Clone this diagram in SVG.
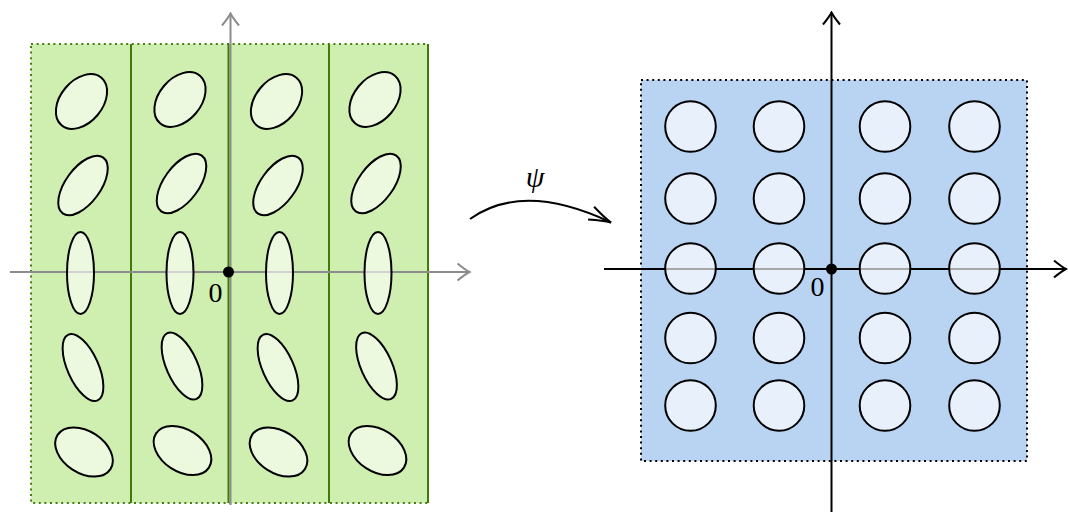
<svg xmlns="http://www.w3.org/2000/svg" width="1068" height="512" viewBox="0 0 1068 512">
<style>
.strip{fill:#cfefb0;stroke:#457d0e;stroke-width:2;stroke-dasharray:2 3.6}
.sep{stroke:#3f7a0a;stroke-width:2;fill:none}
.gax{stroke:#8c8c8c;stroke-width:2;fill:none}
.bax{stroke:#000;stroke-width:2;fill:none}
.ell{fill:#fff;fill-opacity:0.6;stroke:#000;stroke-width:2}
.cir{fill:#fff;fill-opacity:0.65;stroke:#000;stroke-width:2}
.lbl{font-family:"Liberation Serif","DejaVu Serif",serif;font-size:28px;fill:#000}
</style>
<defs>
<marker id="ga" viewBox="-14 -10 16 20" refX="0" refY="0" markerWidth="16" markerHeight="20" markerUnits="userSpaceOnUse" orient="auto">
<path d="M-12,-8.5 Q-4,-2 0,0 Q-4,2 -12,8.5" fill="none" stroke="#8c8c8c" stroke-width="2"/>
</marker>
<marker id="ba" viewBox="-14 -10 16 20" refX="0" refY="0" markerWidth="16" markerHeight="20" markerUnits="userSpaceOnUse" orient="auto">
<path d="M-12,-8.5 Q-4,-2 0,0 Q-4,2 -12,8.5" fill="none" stroke="#000" stroke-width="2"/>
</marker>
<marker id="pa" viewBox="-24 -10 26 20" refX="0" refY="0" markerWidth="26" markerHeight="20" markerUnits="userSpaceOnUse" orient="auto">
<path d="M-22,-7 Q-8,-1.5 0,0 Q-8,1.5 -22,7" fill="none" stroke="#000" stroke-width="2"/>
</marker>
</defs>

<g id="left-domain">
<rect class="strip" x="31" y="44" width="397" height="459"/>
<line class="sep" x1="131" y1="44" x2="131" y2="503"/>
<line class="sep" x1="228.5" y1="44" x2="228.5" y2="503"/>
<line class="sep" x1="329" y1="44" x2="329" y2="503"/>
<line class="sep" x1="428" y1="44" x2="428" y2="503"/>
<line class="gax" x1="230.5" y1="505" x2="230.5" y2="13.5" marker-end="url(#ga)"/>
<line class="gax" x1="10" y1="272" x2="469.5" y2="272" marker-end="url(#ga)"/>
<g id="left-ellipses">
<ellipse class="ell" cx="81.5" cy="101.5" rx="31" ry="21" transform="rotate(-50 81.5 101.5)"/>
<ellipse class="ell" cx="180" cy="99.5" rx="31" ry="21" transform="rotate(-50 180 99.5)"/>
<ellipse class="ell" cx="276.5" cy="101.5" rx="31" ry="21" transform="rotate(-50 276.5 101.5)"/>
<ellipse class="ell" cx="375" cy="99.5" rx="31" ry="21" transform="rotate(-50 375 99.5)"/>
<ellipse class="ell" cx="83" cy="185.5" rx="34.5" ry="17.5" transform="rotate(-54 83 185.5)"/>
<ellipse class="ell" cx="181.5" cy="183.5" rx="34.5" ry="17.5" transform="rotate(-54 181.5 183.5)"/>
<ellipse class="ell" cx="278" cy="185.5" rx="34.5" ry="17.5" transform="rotate(-54 278 185.5)"/>
<ellipse class="ell" cx="376" cy="183.5" rx="34.5" ry="17.5" transform="rotate(-54 376 183.5)"/>
<ellipse class="ell" cx="80.5" cy="273" rx="13.5" ry="41"/>
<ellipse class="ell" cx="180" cy="273" rx="13.5" ry="41"/>
<ellipse class="ell" cx="279.5" cy="273" rx="13.5" ry="41"/>
<ellipse class="ell" cx="378" cy="273" rx="13.5" ry="41"/>
<ellipse class="ell" cx="83" cy="367.5" rx="36" ry="15.5" transform="rotate(66 83 367.5)"/>
<ellipse class="ell" cx="182" cy="366" rx="36" ry="15.5" transform="rotate(66 182 366)"/>
<ellipse class="ell" cx="278" cy="367.5" rx="36" ry="15.5" transform="rotate(66 278 367.5)"/>
<ellipse class="ell" cx="376.5" cy="366" rx="36" ry="15.5" transform="rotate(66 376.5 366)"/>
<ellipse class="ell" cx="84" cy="452" rx="31.5" ry="21" transform="rotate(33 84 452)"/>
<ellipse class="ell" cx="182.5" cy="450.5" rx="31.5" ry="21" transform="rotate(33 182.5 450.5)"/>
<ellipse class="ell" cx="278.5" cy="452" rx="31.5" ry="21" transform="rotate(33 278.5 452)"/>
<ellipse class="ell" cx="377.5" cy="450.5" rx="31.5" ry="21" transform="rotate(33 377.5 450.5)"/>
</g>
<circle cx="228.5" cy="272" r="5.5" fill="#000"/>
<text class="lbl" x="215.5" y="302" text-anchor="middle">0</text>
</g>

<g id="right-domain">
<rect x="641" y="80" width="386" height="381" fill="#b9d4f3" stroke="#000" stroke-width="2" stroke-dasharray="2 3.6"/>
<line class="bax" x1="831.5" y1="512" x2="831.5" y2="12.5" marker-end="url(#ba)"/>
<line class="bax" x1="604" y1="269" x2="1066" y2="269" marker-end="url(#ba)"/>
<g id="right-circles">
<circle class="cir" cx="690.5" cy="126.5" r="25.3"/>
<circle class="cir" cx="779" cy="126.5" r="25.3"/>
<circle class="cir" cx="885" cy="126.5" r="25.3"/>
<circle class="cir" cx="974.5" cy="126.5" r="25.3"/>
<circle class="cir" cx="690.5" cy="198.5" r="25.3"/>
<circle class="cir" cx="779" cy="198.5" r="25.3"/>
<circle class="cir" cx="885" cy="198.5" r="25.3"/>
<circle class="cir" cx="974.5" cy="198.5" r="25.3"/>
<circle class="cir" cx="690.5" cy="268.5" r="25.3"/>
<circle class="cir" cx="779" cy="268.5" r="25.3"/>
<circle class="cir" cx="885" cy="268.5" r="25.3"/>
<circle class="cir" cx="974.5" cy="268.5" r="25.3"/>
<circle class="cir" cx="690.5" cy="338" r="25.3"/>
<circle class="cir" cx="779" cy="338" r="25.3"/>
<circle class="cir" cx="885" cy="338" r="25.3"/>
<circle class="cir" cx="974.5" cy="338" r="25.3"/>
<circle class="cir" cx="690.5" cy="405.5" r="25.3"/>
<circle class="cir" cx="779" cy="405.5" r="25.3"/>
<circle class="cir" cx="885" cy="405.5" r="25.3"/>
<circle class="cir" cx="974.5" cy="405.5" r="25.3"/>
</g>
<circle cx="831.5" cy="269" r="5.5" fill="#000"/>
<text class="lbl" x="817.5" y="296" text-anchor="middle">0</text>
</g>

<g id="connectors">
<path d="M470,219 Q523,181 611,222.5" fill="none" stroke="#000" stroke-width="2" marker-end="url(#pa)"/>
<text x="535" y="187" text-anchor="middle" font-family="Liberation Serif, DejaVu Serif, serif" font-style="italic" font-size="30">ψ</text>
</g>
</svg>
